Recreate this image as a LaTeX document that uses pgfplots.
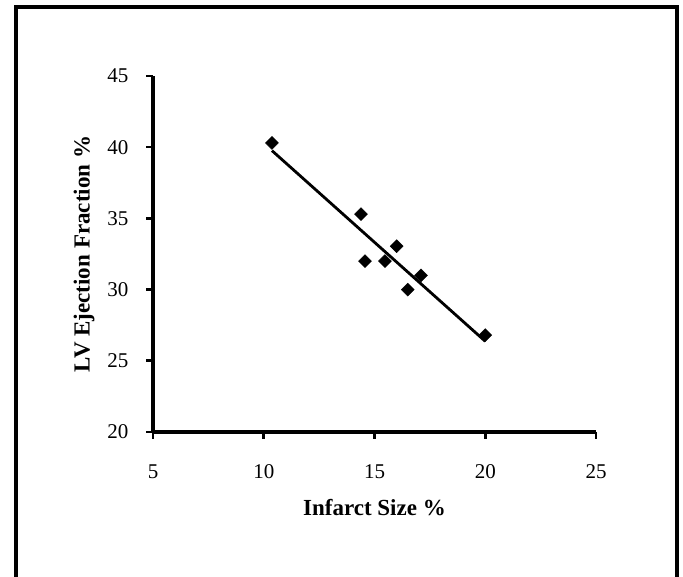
\documentclass[border=0pt]{standalone}
\usepackage{pgfplots}
\pgfplotsset{compat=1.18}
\usepackage{fontspec}
\setmainfont{Liberation Serif}

\begin{document}
\begin{tikzpicture}[x=1pt,y=1pt]
  \useasboundingbox (0,0) rectangle (683,577);
  \fill[white] (0,0) rectangle (683,577);
  % outer frame, open at the bottom
  \draw[line width=4pt] (16,-5) -- (16,570) -- (677,570) -- (677,-5);
  \begin{axis}[
    at={(153pt,145pt)}, anchor=south west,
    scale only axis, width=443pt, height=356pt,
    xmin=5, xmax=25, ymin=20, ymax=45,
    axis x line=bottom, axis y line=left,
    axis line style={line width=3.5pt, -},
    xtick={5,10,...,25}, ytick={20,25,...,45},
    every tick/.style={line width=2.6pt, black},
    tick align=outside, major tick length=7pt,
    ticklabel style={font=\fontsize{21}{24}\selectfont},
    xticklabel shift=22pt, yticklabel shift=14pt,
    /pgf/number format/assume math mode=true,
    xlabel={Infarct Size \%}, ylabel={LV Ejection Fraction \%},
    label style={font=\fontsize{23}{26}\selectfont\bfseries},
    xlabel style={at={(axis description cs:0.5,-0.2135)}, anchor=center},
    ylabel style={at={(axis description cs:-0.1558,0.5)}, anchor=center},
    clip=false,
  ]
    \addplot[only marks, mark=square*, mark size=4.6pt,
      mark options={rotate=45, fill=black, draw=black}] coordinates {
      (10.37,40.3) (14.39,35.3) (14.57,32.0) (15.47,32.0)
      (16.0,33.05) (16.5,30.0) (17.1,31.0) (20.0,26.8)
    };
    % linear trend line
    \addplot[line width=2.8pt, black, no marks] coordinates {
      (10.37,39.76) (20.0,26.37)
    };
  \end{axis}
\end{tikzpicture}
\end{document}
